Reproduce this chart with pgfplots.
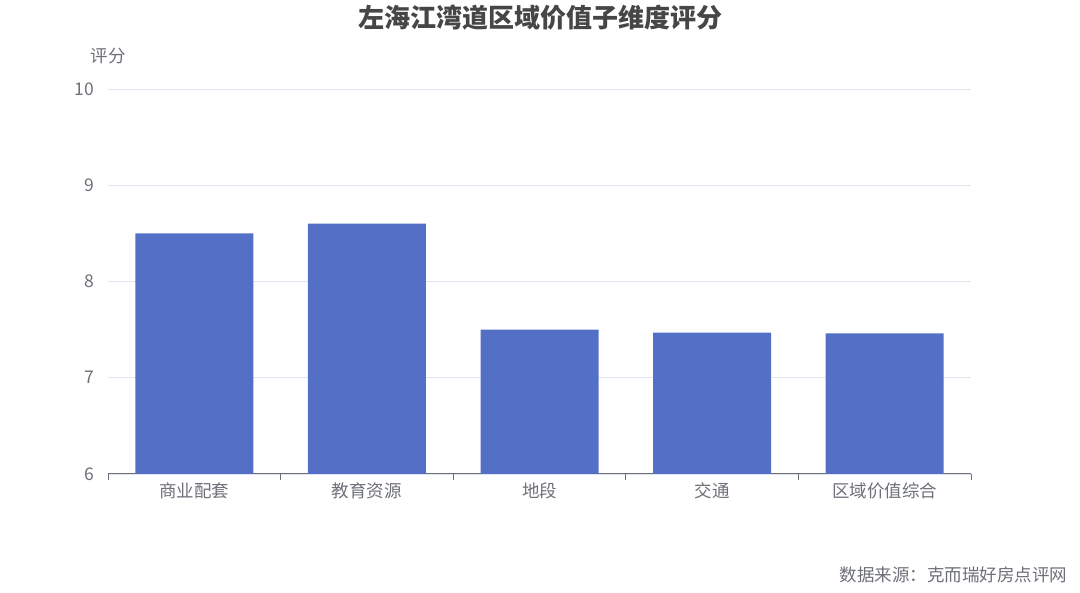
\documentclass[border=0pt]{standalone}
\usepackage{pgfplots}
\pgfplotsset{compat=1.18}
\usepackage{fontspec}
\setmainfont{Noto Sans CJK SC}
\definecolor{barc}{HTML}{5470C6}
\definecolor{txt}{HTML}{6E7079}
\definecolor{gridc}{HTML}{E0E6F1}
\definecolor{titlec}{HTML}{464646}
\begin{document}
\begin{tikzpicture}[x=1pt,y=1pt]
\path[use as bounding box] (0,0) rectangle (1080,593);
\begin{axis}[
  at={(108pt,119pt)}, anchor=south west,
  scale only axis, width=863pt, height=385pt,
  ymin=6, ymax=10, ytick={6,7,8,9,10},
  xmin=-0.5, xmax=4.5,
  xtick={0,1,2,3,4},
  xticklabels={商业配套,教育资源,地段,交通,区域价值综合},
  minor xtick={-0.5,0.5,1.5,2.5,3.5,4.5},
  major x tick style={draw=none},
  minor tick length=6pt,
  tick align=outside,
  x tick style={draw=txt, line width=1pt},
  axis x line*=bottom,
  axis y line*=left,
  x axis line style={draw=txt, line width=1pt, -},
  y axis line style={draw=none},
  ymajorgrids, grid style={draw=gridc, line width=0.8pt},
  y tick style={draw=none},
  ticklabel style={font=\fontsize{17.5}{20}\selectfont, text=txt},
  xticklabel style={yshift=-1pt},
  yticklabel style={xshift=-6pt},
  /pgf/number format/assume math mode=true,
  ybar, bar width=118pt,
  clip=false,
]
\addplot[fill=barc, draw=none] coordinates {(0,8.5) (1,8.6) (2,7.5) (3,7.47) (4,7.46)};
\end{axis}
\node[font=\fontsize{26}{30}\selectfont\bfseries, text=titlec] at (540,575) {左海江湾道区域价值子维度评分};
\node[font=\fontsize{17.5}{20}\selectfont, text=txt] at (108,537) {评分};
\node[font=\fontsize{17.5}{20}\selectfont, text=txt, anchor=east] at (1071,18) {数据来源：克而瑞好房点评网};
\end{tikzpicture}
\end{document}
